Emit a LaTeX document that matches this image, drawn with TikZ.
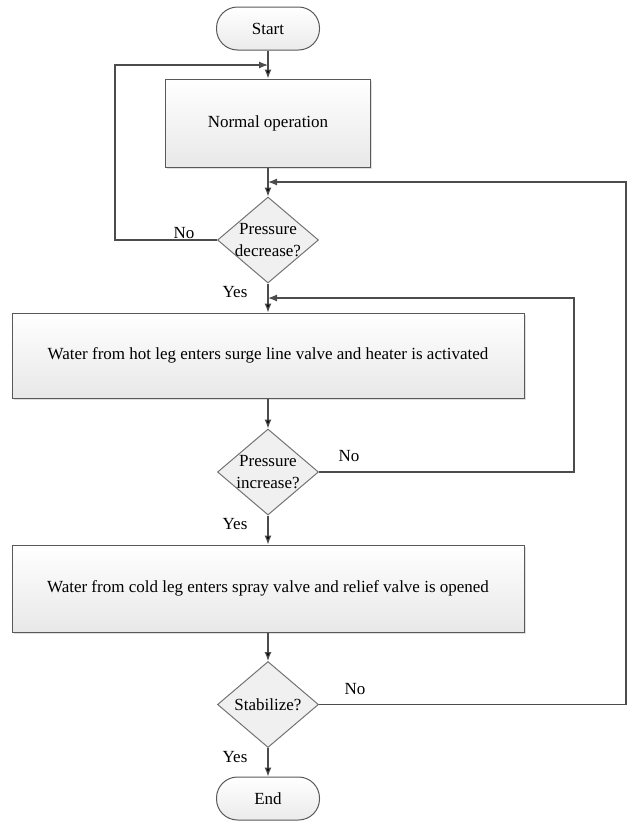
\documentclass[tikz,border=0pt]{standalone}
\usepackage{fontspec}
\setmainfont{Liberation Serif}
\usepackage{tikz}
\usetikzlibrary{arrows.meta, shapes.geometric, shadows}

\begin{document}
\begin{tikzpicture}[x=1pt, y=-1pt,
	every node/.style={font=\fontsize{17}{22}\selectfont, text=black},
	terminal/.style={shape=rectangle, rounded corners=21pt, draw=black!65, line width=1pt, top color=white, bottom color=black!8, minimum width=103pt, minimum height=43pt, inner sep=0pt},
	process/.style={shape=rectangle, draw=black!65, line width=1pt, top color=white, bottom color=black!9, drop shadow={opacity=0.25, shadow xshift=1.5pt, shadow yshift=-1.5pt}, inner sep=0pt},
	decision/.style={shape=diamond, draw=black!55, line width=1pt, fill=black!6, minimum width=101pt, minimum height=86pt, inner sep=0pt},
	flow/.style={draw=black!70, line width=1.2pt, ->, >={Latex[length=9pt, width=7pt]}},
	answer/.style={inner sep=0pt}]
	\useasboundingbox (0, 0) rectangle (632, 825);

	\node[terminal] (S) at (268, 28.5) {Start};
	\node[process, minimum width=205pt, minimum height=88pt] (N) at (268, 123) {Normal operation};
	\node[decision] (D1) at (268, 240) {};
	\node[align=center] (D1t) at (D1) {Pressure\\decrease?};
	\node[process, minimum width=512pt, minimum height=85pt] (H) at (268, 355.5) {Water from hot leg enters surge line valve and heater is activated};
	\node[decision] (D2) at (268, 472) {};
	\node[align=center] (D2t) at (D2) {Pressure\\increase?};
	\node[process, minimum width=512pt, minimum height=87pt] (C) at (268, 588.5) {Water from cold leg enters spray valve and relief valve is opened};
	\node[decision] (D3) at (268, 704.5) {};
	\node (D3t) at (D3) {Stabilize?};
	\node[terminal] (E) at (268, 798.5) {End};

	% joints on the main line
	\coordinate (J1) at (268, 65);
	\coordinate (J2) at (268, 182);
	\coordinate (J3) at (268, 298);
	\coordinate (L1) at (115, 65);
	\coordinate (R2) at (574, 298);
	\coordinate (R3) at (626, 182);

	\path[flow] (S) edge (N);
	\path[flow] (N) edge (D1);
	\path[flow] (D1) edge (H);
	\path[flow] (H) edge (D2);
	\path[flow] (D2) edge (C);
	\path[flow] (C) edge (D3);
	\path[flow] (D3) edge (E);

	\draw[flow] (D1.west) -| (L1) -- (J1);
	\draw[flow] (D2.east) -| (R2) -- (J3);
	\draw[flow] (D3.east) -| (R3) -- (J2);

	\node[answer] (no1) at (184, 233) {No};
	\node[answer] (yes1) at (235, 292) {Yes};
	\node[answer] (no2) at (349, 456) {No};
	\node[answer] (yes2) at (235, 524) {Yes};
	\node[answer] (no3) at (355, 689) {No};
	\node[answer] (yes3) at (235, 757) {Yes};
\end{tikzpicture}
\end{document}
